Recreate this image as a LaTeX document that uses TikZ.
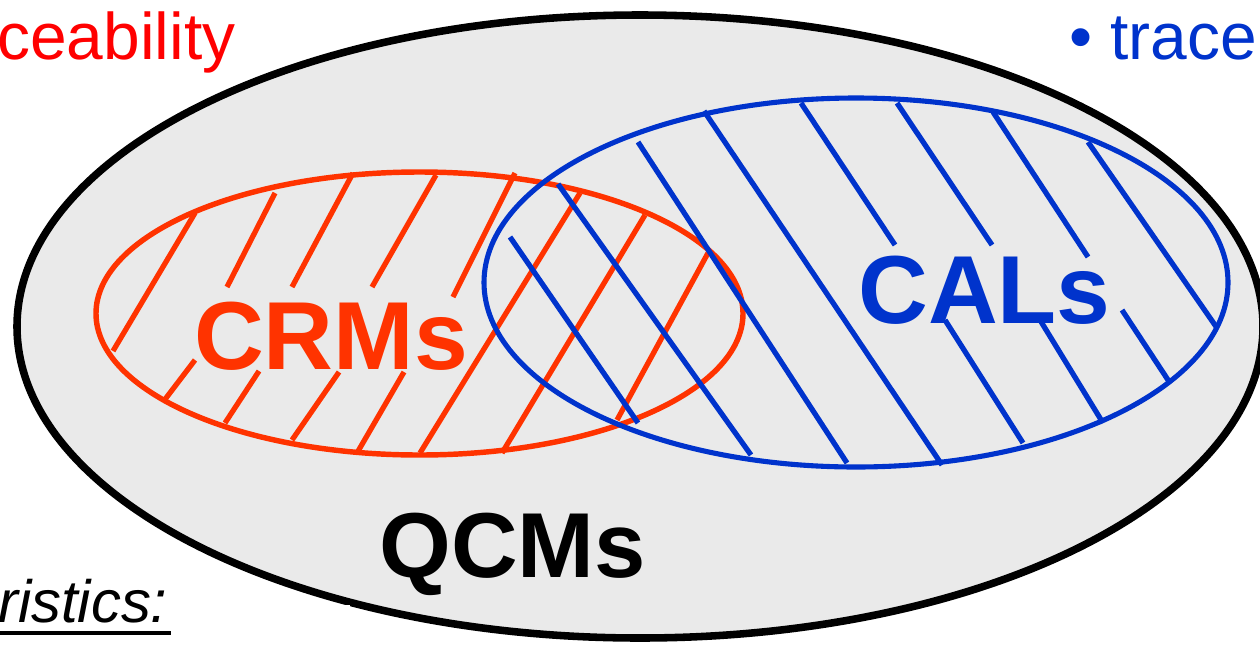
\documentclass[tikz,border=0pt]{standalone}
\usepackage{fontspec}
\setmainfont{Liberation Sans}
\definecolor{bggray}{RGB}{234,234,234}
\definecolor{crmred}{RGB}{255,51,0}
\definecolor{pured}{RGB}{255,0,0}
\definecolor{calblue}{RGB}{0,51,204}
\tikzset{
  outerset/.style={draw=black, line width=4.3pt, fill=bggray},
  redset/.style={draw=crmred, line width=3.1pt},
  blueset/.style={draw=calblue, line width=2.9pt},
  redhatch/.style={draw=crmred, line width=3pt},
  bluehatch/.style={draw=calblue, line width=3pt},
  biglabel/.style={inner sep=0pt, anchor=base, font=\fontsize{55}{60}\selectfont\bfseries},
  toptext/.style={inner sep=0pt, anchor=base west, font=\fontsize{37.5}{44}\selectfont},
}
\begin{document}
\begin{tikzpicture}[x=0.02cm,y=-0.02cm]
\useasboundingbox (0,0) rectangle (1260,646);
% outer set
\draw[outerset] (640,326.5) ellipse [x radius=623, y radius=311.5];
% red hatch
\foreach \a/\b in {{(113,351)}/{(195,213)},{(227,287)}/{(275,193)},{(292,287)}/{(353,173)},
  {(372,287)}/{(436,175)},{(453,297)}/{(515,173)},{(163,402)}/{(195,360)},{(225,423)}/{(259,371)},
  {(292,440)}/{(339,372)},{(357,453)}/{(404,372)},{(420,453)}/{(580,193)},{(502,453)}/{(645,215)},
  {(617,420)}/{(708,253)}}
  \draw[redhatch] \a -- \b;
\draw[redset] (419.5,313.5) ellipse [x radius=323.5, y radius=141.5];
% blue hatch
\foreach \a/\b in {{(510,237)}/{(638,423)},{(558,184)}/{(751,455)},{(638,142)}/{(847,463)},
  {(704,111)}/{(942,465)},{(801,103)}/{(895,245)},{(945,320)}/{(1023,443)},{(897,103)}/{(992,245)},
  {(1040,320)}/{(1103,423)},{(993,112)}/{(1088,257)},{(1122,310)}/{(1170,383)},{(1088,142)}/{(1217,328)}}
  \draw[bluehatch] \a -- \b;
\draw[blueset] (856,282.5) ellipse [x radius=372, y radius=184.5];
% labels
\node[biglabel, text=crmred] (crm) at (331,369) {CRMs};
\node[biglabel, text=calblue] (cal) at (984.5,323) {CALs};
\node[biglabel, text=black, font=\fontsize{52.5}{58}\selectfont\bfseries] (qcm) at (512.5,577) {QCMs};
\node[toptext, text=pured] (trl) at (-3,59) {ceability};
\node[toptext, text=calblue] (trr) at (1069,59) {• trace};
\fill[white] (0,605) rectangle (350,646);
\node[inner sep=0pt, anchor=base west, font=\fontsize{34}{40}\selectfont\itshape] (rist) at (-2,622) {ristics:};
\draw[line width=2.3pt] ([yshift=-6.2pt]rist.base west) -- ([yshift=-6.2pt,xshift=2pt]rist.base east);
\end{tikzpicture}
\end{document}
